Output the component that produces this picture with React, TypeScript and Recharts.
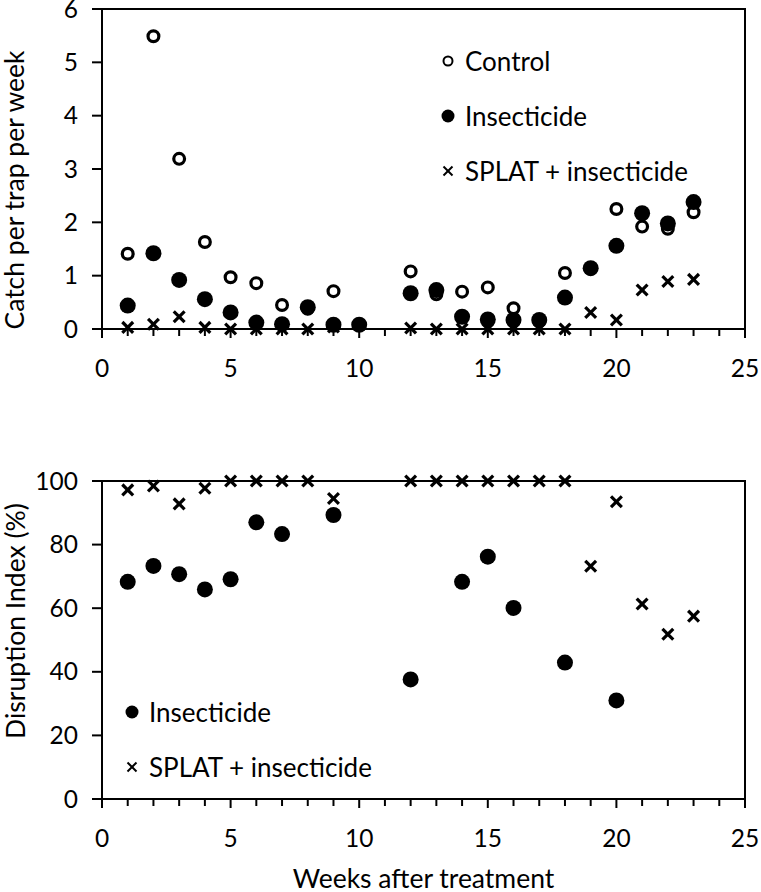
import React from "react";
import {
  ScatterChart,
  Scatter,
  XAxis,
  YAxis,
  ReferenceArea,
  Legend,
  Label,
} from "recharts";

const FONT = "Lato, 'Open Sans', sans-serif";

// weeks after treatment (no sampling in week 11)
const weeks = [1, 2, 3, 4, 5, 6, 7, 8, 9, 10, 12, 13, 14, 15, 16, 17, 18, 19, 20, 21, 22, 23];

// catch per trap per week
const catchControl = [1.41, 5.49, 3.19, 1.63, 0.97, 0.86, 0.45, 0.38, 0.71, null, 1.08, 0.65, 0.7, 0.78, 0.39, 0.15, 1.05, 1.13, 2.25, 1.92, 1.88, 2.19];
const catchInsecticide = [0.44, 1.42, 0.92, 0.56, 0.31, 0.12, 0.09, 0.41, 0.08, 0.08, 0.67, 0.73, 0.23, 0.18, 0.17, 0.17, 0.59, 1.14, 1.56, 2.17, 1.98, 2.38];
const catchSplat = [0.03, 0.09, 0.23, 0.03, 0, 0, 0, 0, 0.04, null, 0.02, 0, 0, 0, 0, 0, 0, 0.31, 0.17, 0.73, 0.89, 0.93];

// disruption index (%)
const diInsecticide = [68.3, 73.3, 70.7, 65.9, 69.1, 87.0, 83.3, null, 89.3, null, 37.6, null, 68.3, 76.2, 60.1, null, 42.9, null, 31.0, null, null, null];
const diSplat = [97.2, 98.4, 92.8, 97.7, 100, 100, 100, 100, 94.5, null, 100, 100, 100, 100, 100, 100, 100, 73.2, 93.5, 61.3, 51.8, 57.5];

const weekTicks = [0, 1, 2, 3, 4, 5, 6, 7, 8, 9, 10, 11, 12, 13, 14, 15, 16, 17, 18, 19, 20, 21, 22, 23, 24, 25];
const catchTicks = [0, 1, 2, 3, 4, 5, 6];
const diTicks = [0, 20, 40, 60, 80, 100];

const toPoints = (values: (number | null)[]) =>
  weeks
    .map((w, i) => ({ week: w, value: values[i] }))
    .filter((p) => p.value !== null);

type Kind = "open" | "filled" | "cross";
const kindByName: Record<string, Kind> = {
  Control: "open",
  Insecticide: "filled",
  "SPLAT + insecticide": "cross",
};

function Marker({ kind, cx, cy, small }: { kind: Kind; cx: number; cy: number; small?: boolean }) {
  if (kind === "open") {
    return <circle cx={cx} cy={cy} r={small ? 4.5 : 5.4} fill="#fff" stroke="#000" strokeWidth={small ? 2 : 3.2} />;
  }
  if (kind === "filled") {
    return <circle cx={cx} cy={cy} r={small ? 6.5 : 8} fill="#000" />;
  }
  const h = small ? 4.5 : 5.4;
  return (
    <g stroke="#000" strokeWidth={small ? 2 : 3.2}>
      <line x1={cx - h} y1={cy - h} x2={cx + h} y2={cy + h} />
      <line x1={cx - h} y1={cy + h} x2={cx + h} y2={cy - h} />
    </g>
  );
}

const openShape = (p: any) => <Marker kind="open" cx={p.cx} cy={p.cy} />;
const filledShape = (p: any) => <Marker kind="filled" cx={p.cx} cy={p.cy} />;
const crossShape = (p: any) => <Marker kind="cross" cx={p.cx} cy={p.cy} />;

function WeekTick(props: any) {
  const { x, y, payload } = props;
  const major = payload.value % 5 === 0;
  return (
    <g>
      <line x1={x} x2={x} y1={y} y2={y + (major ? 9 : 7)} stroke="#000" strokeWidth={2} />
      {major && (
        <text x={x} y={y + 38} textAnchor="middle" dominantBaseline="central" fontSize={24.5} fontFamily={FONT} fill="#000">
          {payload.value}
        </text>
      )}
    </g>
  );
}

function LegendBox({ payload }: any) {
  return (
    <div style={{ display: "flex", flexDirection: "column" }}>
      {(payload || []).map((entry: any) => (
        <div key={entry.value} style={{ display: "flex", alignItems: "center", height: 55 }}>
          <svg width={20} height={20} style={{ marginRight: 7 }}>
            <Marker kind={kindByName[entry.value]} cx={10} cy={10} small />
          </svg>
          <span style={{ fontFamily: FONT, fontSize: 26, lineHeight: 1, color: "#000", whiteSpace: "nowrap" }}>
            {entry.value}
          </span>
        </div>
      ))}
    </div>
  );
}

const yTitle = (text: string, dx: number, shift: number) => (props: any) => {
  const vb = props.viewBox || { x: 0, y: 0, width: 0, height: 0 };
  const cx = vb.x + dx;
  const cy = vb.y + vb.height / 2 + shift;
  return (
    <text x={cx} y={cy} transform={`rotate(-90 ${cx} ${cy})`} textAnchor="middle" dominantBaseline="central" fontSize={26.5} fontFamily={FONT} fill="#000">
      {text}
    </text>
  );
};

const xTitle = (text: string) => (props: any) => {
  const vb = props.viewBox || { x: 0, y: 0, width: 0, height: 0 };
  return (
    <text x={vb.x + vb.width / 2} y={vb.y + 79} textAnchor="middle" dominantBaseline="central" fontSize={26.5} fontFamily={FONT} fill="#000">
      {text}
    </text>
  );
};

const axisStyle = { stroke: "#000", strokeWidth: 2 };
const tickText = { fill: "#000", fontSize: 24.5, fontFamily: FONT };

export default function App() {
  return (
    <div style={{ position: "absolute", left: 0, top: 0, width: 761, height: 892, background: "#fff" }}>
      <div style={{ position: "absolute", left: 0, top: 0 }}>
        <ScatterChart width={761} height={420} margin={{ top: 9, right: 16, bottom: 0, left: 0 }}>
          <XAxis type="number" dataKey="week" domain={[0, 25]} ticks={weekTicks} interval={0} tickSize={0} tickMargin={0} tickLine={false} tick={<WeekTick />} axisLine={axisStyle} height={91} />
          <YAxis type="number" dataKey="value" domain={[0, 6]} ticks={catchTicks} interval={0} width={102} tickSize={10} tickMargin={14} tickLine={axisStyle} axisLine={axisStyle} tick={tickText}>
            <Label content={yTitle("Catch per trap per week", 14, 21)} />
          </YAxis>
          <ReferenceArea x1={0} x2={25} y1={0} y2={6} fill="none" stroke="#000" strokeWidth={2} />
          <Legend layout="horizontal" align="center" verticalAlign="middle" content={<LegendBox />} wrapperStyle={{ left: 438, top: 33, width: "auto" }} />
          <Scatter name="Control" data={toPoints(catchControl)} shape={openShape} isAnimationActive={false} />
          <Scatter name="Insecticide" data={toPoints(catchInsecticide)} shape={filledShape} isAnimationActive={false} />
          <Scatter name="SPLAT + insecticide" data={toPoints(catchSplat)} shape={crossShape} isAnimationActive={false} />
        </ScatterChart>
      </div>
      <div style={{ position: "absolute", left: 0, top: 440 }}>
        <ScatterChart width={761} height={452} margin={{ top: 41, right: 16, bottom: 0, left: 0 }}>
          <XAxis type="number" dataKey="week" domain={[0, 25]} ticks={weekTicks} interval={0} tickSize={0} tickMargin={0} tickLine={false} tick={<WeekTick />} axisLine={axisStyle} height={93}>
            <Label content={xTitle("Weeks after treatment")} />
          </XAxis>
          <YAxis type="number" dataKey="value" domain={[0, 100]} ticks={diTicks} interval={0} width={102} tickSize={10} tickMargin={14} tickLine={axisStyle} axisLine={axisStyle} tick={tickText}>
            <Label content={yTitle("Disruption Index (%)", 15, -19)} />
          </YAxis>
          <ReferenceArea x1={0} x2={25} y1={0} y2={100} fill="none" stroke="#000" strokeWidth={2} />
          <Legend layout="horizontal" align="center" verticalAlign="middle" content={<LegendBox />} wrapperStyle={{ left: 122, top: 244, width: "auto" }} />
          <Scatter name="Insecticide" data={toPoints(diInsecticide)} shape={filledShape} isAnimationActive={false} />
          <Scatter name="SPLAT + insecticide" data={toPoints(diSplat)} shape={crossShape} isAnimationActive={false} />
        </ScatterChart>
      </div>
    </div>
  );
}
